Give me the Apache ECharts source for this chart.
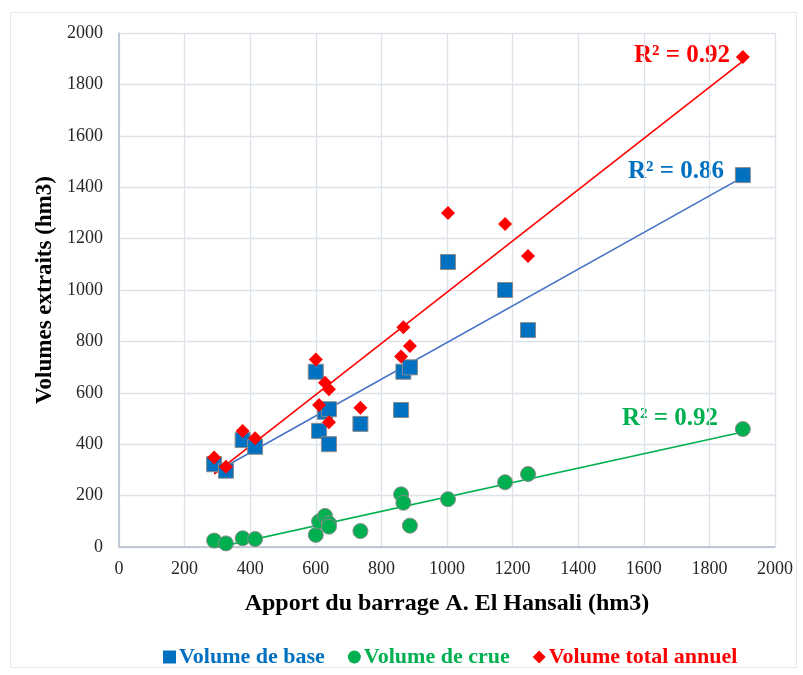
<!DOCTYPE html>
<html>
<head>
  <meta charset="UTF-8">
  <title>Volumes extraits</title>
  <script src="https://cdn.jsdelivr.net/npm/echarts@6/dist/echarts.min.js"></script>
  <style>
    html, body { margin: 0; padding: 0; background: #fff; }
    #main { width: 803px; height: 675px; }
  </style>
</head>
<body>
<div id="main"></div>
<script type="text/javascript">
  // apport du barrage (hm3)
  var apport = [290, 326, 377, 415, 600, 610, 628, 640, 640, 736, 860, 867, 887, 1003, 1177, 1247, 1902];
  var volBase = [322, 297, 416, 390, 682, 452, 526, 536, 400, 479, 533, 682, 699, 1109, 1000, 844, 1447];
  var volCrue = [25, 14, 34, 31, 47, 99, 121, 92, 79, 62, 205, 172, 83, 186, 252, 284, 459];
  var volTotal = [348, 312, 451, 423, 730, 553, 639, 614, 485, 542, 741, 855, 782, 1300, 1257, 1132, 1907];

  var seriesNames = ['Volume de base', 'Volume de crue', 'Volume total annuel'];
  var r2Labels = ['R² = 0.86', 'R² = 0.92', 'R² = 0.92'];
  var colors = ['#0070C0', '#00B050', '#FF0000'];

  function pairs(xs, ys) {
    var out = [];
    for (var i = 0; i < xs.length; i++) out.push([xs[i], ys[i]]);
    return out;
  }

  // droite de tendance (moindres carres)
  function trend(xs, ys) {
    var n = xs.length, sx = 0, sy = 0, sxx = 0, sxy = 0;
    for (var i = 0; i < n; i++) {
      sx += xs[i]; sy += ys[i]; sxx += xs[i] * xs[i]; sxy += xs[i] * ys[i];
    }
    var b = (n * sxy - sx * sy) / (n * sxx - sx * sx);
    var a = (sy - b * sx) / n;
    var x0 = Math.min.apply(null, xs), x1 = Math.max.apply(null, xs);
    return [[x0, a + b * x0], [x1, a + b * x1]];
  }

  var font = '"Liberation Serif", "Times New Roman", serif';
  var allY = [volBase, volCrue, volTotal];
  var symbols = ['rect', 'circle', 'diamond'];
  var sizes = [15, 15, 14];
  var plain = function (v) { return String(v); };

  var series = [];
  for (var k = 0; k < 3; k++) {
    series.push({
      name: seriesNames[k] + ' fit',
      type: 'line',
      data: trend(apport, allY[k]),
      showSymbol: false,
      silent: true,
      z: 1,
      lineStyle: { color: k === 0 ? '#4472C4' : colors[k], width: 1.6 }
    });
  }
  for (var k = 0; k < 3; k++) {
    series.push({
      name: seriesNames[k],
      type: 'scatter',
      symbol: symbols[k],
      symbolSize: sizes[k],
      data: pairs(apport, allY[k]),
      z: 3,
      itemStyle: {
        color: colors[k],
        opacity: 1,
        borderColor: k === 2 ? colors[k] : '#8a8a8a',
        borderWidth: k === 2 ? 0 : 1
      }
    });
  }

  var option = {
    animation: false,
    backgroundColor: '#fff',
    textStyle: { fontFamily: font },
    grid: { left: 119, right: 28, top: 33, bottom: 128 },
    legend: {
      top: 641,
      left: 158,
      itemGap: 23,
      itemWidth: 13,
      itemHeight: 13,
      textStyle: { fontFamily: font, fontSize: 22, fontWeight: 'bold', padding: [0, 0, 0, -2] },
      data: [
        { name: seriesNames[0], icon: 'rect', itemStyle: { borderWidth: 0 }, textStyle: { color: colors[0] } },
        { name: seriesNames[1], icon: 'circle', itemStyle: { borderWidth: 0 }, textStyle: { color: colors[1] } },
        { name: seriesNames[2], icon: 'diamond', textStyle: { color: colors[2] } }
      ]
    },
    xAxis: {
      type: 'value',
      min: 0, max: 2000, interval: 200,
      name: 'Apport du barrage A. El Hansali (hm3)',
      nameLocation: 'middle',
      nameGap: 45,
      nameTextStyle: { fontFamily: font, fontSize: 24, fontWeight: 'bold', color: '#000' },
      axisLine: { show: true, lineStyle: { color: '#b4bccb', width: 1.5 } },
      axisTick: { show: false },
      axisLabel: { fontFamily: font, fontSize: 18, color: '#262626', margin: 13, formatter: plain },
      splitLine: { lineStyle: { color: '#dde2ea', width: 1.3 } }
    },
    yAxis: {
      type: 'value',
      min: 0, max: 2000, interval: 200,
      name: 'Volumes extraits (hm3)',
      nameLocation: 'middle',
      nameGap: 58,
      nameTextStyle: { fontFamily: font, fontSize: 23, fontWeight: 'bold', color: '#000' },
      axisLine: { show: true, lineStyle: { color: '#b4bccb', width: 1.5 } },
      axisTick: { show: false },
      axisLabel: { fontFamily: font, fontSize: 18, color: '#262626', margin: 16, formatter: plain },
      splitLine: { lineStyle: { color: '#dde2ea', width: 1.3 } }
    },
    graphic: [
      {
        type: 'rect', left: 8, top: 10, z: -1, silent: true,
        shape: { width: 786, height: 655 },
        style: { fill: 'none', stroke: '#e3e6ea', lineWidth: 1 }
      },
      {
        type: 'text', right: 73, top: 43,
        style: { text: r2Labels[2], fill: colors[2], font: 'bold 25px ' + font }
      },
      {
        type: 'text', right: 79, top: 159,
        style: { text: r2Labels[0], fill: colors[0], font: 'bold 25px ' + font }
      },
      {
        type: 'text', right: 85, top: 406,
        style: { text: r2Labels[1], fill: colors[1], font: 'bold 25px ' + font }
      }
    ],
    series: series
  };

  var myChart = echarts.init(document.getElementById('main'));
  myChart.setOption(option);
</script>
</body>
</html>
